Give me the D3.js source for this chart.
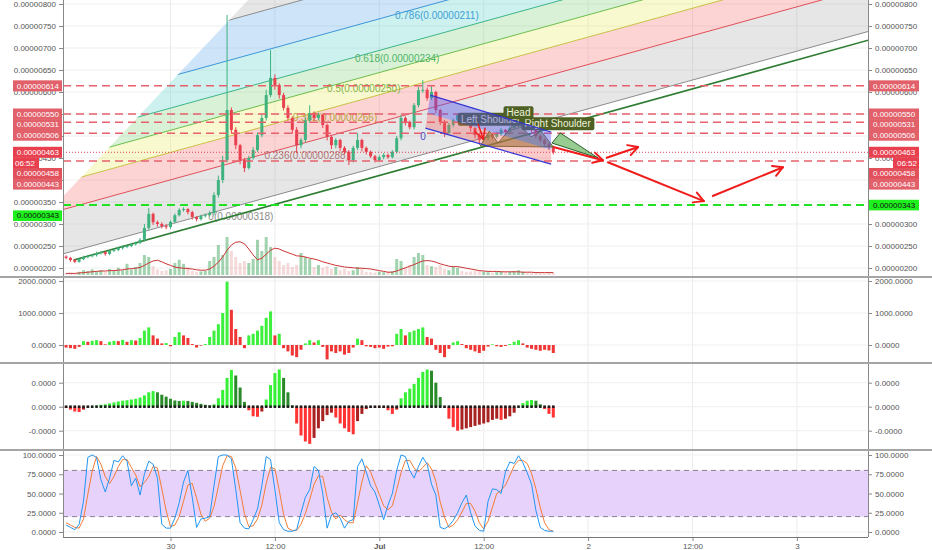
<!DOCTYPE html>
<html><head><meta charset="utf-8">
<script src="https://cdnjs.cloudflare.com/ajax/libs/d3/7.8.5/d3.min.js"></script>
<style>body{margin:0;background:#fff}svg{display:block}</style>
</head><body><svg id="c" width="932" height="550"></svg>
<script>
// ---------------- DATA (prices in units of 0.00000001) ----------------
const startTime = "2018-06-29T12:00:00Z";
const stepMinutes = 30;
const opens = [226,223,218,214,220,225,227,229,234,236, 232,239,241,245,248,250,254,257,264,291,
  323,304,300,295,293,305,320,332,334,327, 316,311,318,320,325,366,400,445,559,514,
  479,445,427,450,468,502,541,593,632,616, 593,564,541,514,479,491,536,552,541,548,
  525,498,479,491,473,464,445,473,491,473, 464,454,445,452,457,452,464,495,541,532,
  520,570,604,605,586,600,559,532,507,525, 536,548,541,532,518,502,491,495,502,498,
  505,514,509,518,523,527,532,525,514,500, 491,482,475];
const highs = [229,225,220,222,228,230,232,237,239,238, 241,244,248,251,253,257,260,268,300,336,
  326,308,304,300,308,324,336,338,336,330, 318,321,324,330,372,410,455,775,565,520,
  482,450,455,475,508,550,605,695,640,620, 598,570,545,520,496,542,570,556,553,550,
  528,502,495,494,477,468,478,507,494,476, 467,457,456,461,460,468,500,548,545,535,
  575,612,627,610,616,603,562,536,530,540, 552,550,545,535,520,505,500,506,505,510,
  518,516,522,527,531,536,535,528,516,503, 494,485,478];
const lows = [220,214,211,212,218,222,224,226,231,228, 229,236,238,242,245,247,251,254,260,287,
  298,294,290,288,289,302,317,328,322,310, 306,308,315,317,320,360,393,440,505,470,
  436,418,424,446,464,497,535,588,605,585, 558,535,505,461,472,485,530,535,536,518,
  490,470,472,466,458,434,440,468,465,458, 450,440,442,447,448,449,460,490,524,515,
  515,565,598,580,582,552,525,498,503,520, 530,535,526,510,495,480,486,490,492,494,
  500,503,505,514,518,522,520,508,495,486, 476,468,458];
const closes = [223,218,214,220,225,227,229,234,236,232, 239,241,245,248,250,254,257,264,291,323,
  304,300,295,293,305,320,332,334,327,316, 311,318,320,325,366,400,445,559,514,479,
  445,427,450,468,502,541,593,632,616,593, 564,541,514,479,491,536,552,541,548,525,
  498,479,491,473,464,445,473,491,473,464, 454,445,452,457,452,464,495,541,532,520,
  570,604,605,586,600,559,532,507,525,536, 548,541,532,518,502,491,495,502,498,505,
  514,509,518,523,527,532,525,514,500,491, 482,475,463];
const volumes = [5,6,4,8,12,10,14,9,12,8, 15,10,18,12,28,14,20,30,50,45,
  22,14,10,12,15,30,38,28,20,10, 8,9,10,35,45,75,50,95,60,45,
  30,35,30,40,88,60,95,70,45,35, 25,30,20,25,55,45,40,20,25,18,
  22,15,20,12,15,10,12,20,15,8, 7,6,8,7,8,10,40,35,20,25,
  45,55,50,25,22,20,25,15,12,20, 18,10,8,9,10,12,8,7,6,8,
  9,7,8,10,12,8,6,5,6,5, 4,5,6];
const volumeMA = [4,4,4,5,6,7,8,9,10,10, 11,11,12,13,15,16,17,19,24,30,
  35,37,33,28,24,20,18,17,16,15, 13,12,12,15,22,32,45,62,75,82,
  83,78,65,50,38,42,52,62,67,65, 60,56,52,48,47,45,42,40,37,33,
  30,27,24,22,20,19,18,17,17,16, 15,13,11,9,7,7,10,14,18,22,
  26,31,35,36,35,32,28,25,22,21, 21,19,17,15,13,11,10,9,9,9,
  8,8,8,8,8,7,7,7,6,6, 6,6,6];
const momentum = [-80,-100,-120,-60,120,100,130,150,120,20, 100,130,120,160,100,150,140,220,450,550,
  300,200,50,60,-40,250,400,300,220,30, -80,-20,30,250,450,650,1000,1980,1100,500,
  250,-100,300,350,450,600,850,1050,300,350, -100,-200,-330,-380,-150,50,150,80,150,-60,
  -450,-200,-250,-200,-300,-250,-80,200,150,-40, -60,-100,-80,-120,-50,-40,350,500,300,400,
  450,500,550,250,200,-150,-250,-380,-120,80, 120,30,-100,-150,-200,-250,-180,-50,20,-40,
  -60,-30,30,100,150,50,-80,-120,-150,-180, -150,-170,-250];
const macdHist = [-0.05,-0.12,-0.2,-0.22,-0.12,-0.03,0.02,0.05,0.08,0.1, 0.14,0.18,0.22,0.25,0.27,0.3,0.33,0.38,0.47,0.6,
  0.65,0.6,0.5,0.42,0.33,0.26,0.24,0.25,0.24,0.2, 0.16,0.12,0.08,0.05,0.1,0.35,0.7,1.2,1.53,1.3,
  0.8,0.2,-0.15,-0.4,-0.42,-0.2,0.3,0.9,1.4,1.55, 1.2,0.6,0.05,-0.7,-1.2,-1.45,-1.55,-1.3,-0.9,-0.6,
  -0.35,-0.25,-0.45,-0.7,-0.9,-1.05,-1.15,-0.6,-0.3,-0.1, -0.05,-0.03,-0.04,-0.05,-0.15,-0.3,-0.12,0.35,0.6,0.75,
  0.95,1.2,1.45,1.55,1.5,1.0,0.4,-0.05,-0.5,-0.85, -1.0,-0.95,-0.9,-0.85,-0.8,-0.75,-0.7,-0.65,-0.55,-0.5,
  -0.55,-0.5,-0.4,-0.25,0.02,0.15,0.25,0.28,0.25,0.1, -0.1,-0.3,-0.45];
const stochK = [9,6,3,10,40,97,100,97,68,52, 70,93,91,99,92,60,70,48,75,92,
  88,70,10,5,5,18,38,65,80,45, 6,17,18,20,60,98,100,100,95,55,
  12,5,4,16,30,60,98,94,55,12, 3,1,1,3,25,45,55,85,80,50,
  5,22,25,18,5,14,16,85,95,78, 60,52,35,16,35,50,80,100,98,80,
  70,85,97,88,62,48,6,4,8,15, 25,38,48,25,8,2,1,40,56,55,
  50,78,91,89,99,90,77,62,28,6, 2,1,1];
const stochD = [12,9,6,5,17,49,79,98,88,72, 63,72,85,94,94,84,74,59,64,72,
  85,83,56,28,7,9,20,40,61,63, 44,23,14,18,33,59,86,99,98,83,
  54,24,7,8,17,35,63,84,82,54, 23,5,2,2,10,24,42,62,73,72,
  45,26,17,22,16,12,12,38,65,86, 78,63,49,34,29,34,55,77,93,93,
  83,78,84,90,82,66,39,19,6,9, 16,26,37,37,27,12,4,14,32,50,
  54,61,73,86,93,93,89,76,56,32, 12,3,1];
const priceTicks = [200,250,300,350,400,450,500,550,600,650,700,750,800];
const momTicks = [0,1000,2000];
const macdTicks = [-1,0,1];
const macdTickLabels = ["-0.0000","0.0000","0.0000"];
const stochTicks = [0,25,50,75,100];
const timeTicks = ["2018-06-30T00:00:00Z","2018-06-30T12:00:00Z","2018-07-01T00:00:00Z","2018-07-01T12:00:00Z","2018-07-02T00:00:00Z","2018-07-02T12:00:00Z","2018-07-03T00:00:00Z"];
const redLevels = [614,550,531,506,443];
const lastPrice = 463, lastClose = 458, greenLevel = 343;
const countdown = "06:52";
// drawings: candle index (fractional) & price
const fibLevels = [0,0.236,0.382,0.5,0.618,0.786,1,1.618];
const fibBase = {p0:234, slope:2.731, width:427, edgeP0:370, edgeSlope:10.49};
const fibLabels = [
  {text:"0(0.00000318)", i:32.7, p:318, c:"#8c8c8c"},
  {text:"0.236(0.00000288)", i:45.6, p:455, c:"#b07a7a"},
  {text:"0.382(0.00000266)", i:52.1, p:541, c:"#b3a53c"},
  {text:"0.5(0.00000250)", i:60.0, p:609, c:"#7fb347"},
  {text:"0.618(0.00000234)", i:66.4, p:677, c:"#4fb56a"},
  {text:"0.786(0.00000211)", i:75.6, p:775, c:"#3f9fd8"}];
const trendLine = [[1.7,218],[190,733]];
const channelTop = [[83.7,593],[111.5,509]];
const channelBottom = [[82.6,518],[111.5,436]];
const hsPoints = [[95.2,477],[97.3,511],[99.3,484],[103.5,534],[106.9,498],[109.2,511],[112,475]];
const hsLabels = [{text:"Left Shoulder", i:97.6, p:538},{text:"Right Shoulder", i:113.0, p:528},{text:"Head", i:104.0, p:553}];
const greenTriangle = [[111.7,484],[113.6,507],[122.3,450]];
const arrows = [[[112,475],[123.4,445]],[[124.1,450],[131.5,475]],[[124.4,441],[146.6,352]],[[148.5,363],[164.8,429]]];
const smallArrow = [[94.7,527],[95.9,493]];
const zeroLabel = {text:"0", i:81.4, p:500};

// ---------------- SETUP ----------------
const svg = d3.select("#c");
const X0 = 63, X1 = 868;
const FONT = "'Liberation Sans', Arial, sans-serif";
svg.attr("font-family", FONT);
const t0 = Date.parse(startTime);
const T = i => new Date(t0 + i * stepMinutes * 60000);
const x = d3.scaleUtc().domain([new Date("2018-06-30T00:00:00Z"), new Date("2018-07-01T00:00:00Z")]).range([170.5, 379.3]);
const xi = i => x(T(i));
const yP = d3.scaleLinear().domain([200, 800]).range([268, 4]);
const yV = d3.scaleLinear().domain([0, 100]).range([275, 235]);
const yM = d3.scaleLinear().domain([0, 2000]).range([345, 281]);
const yH = d3.scaleLinear().domain([-1, 1]).range([430.7, 382.7]);
const yS = d3.scaleLinear().domain([0, 100]).range([532, 455]);
const panes = [[0, 276], [278, 362], [364, 449], [451, 537]];
const defs = svg.append("defs");
panes.forEach((p, k) => defs.append("clipPath").attr("id", "pane" + k).append("rect")
  .attr("x", X0).attr("y", p[0]).attr("width", X1 - X0).attr("height", p[1] - p[0]));
const N = closes.length;
const tickTimes = timeTicks.map(s => new Date(s));

// gridlines
const grid = svg.append("g");
tickTimes.forEach(t => grid.append("line").attr("x1", x(t)).attr("x2", x(t)).attr("y1", 0).attr("y2", 537).attr("stroke", "#ececec"));
const hgrid = (vals, sc) => vals.forEach(v => grid.append("line").attr("x1", X0).attr("x2", X1).attr("y1", sc(v)).attr("y2", sc(v)).attr("stroke", "#efefef"));
hgrid(priceTicks, yP); hgrid(momTicks, yM); hgrid(macdTicks, yH); hgrid(stochTicks, yS);

// ---------------- MAIN PANE ----------------
const main = svg.append("g").attr("clip-path", "url(#pane0)");
// fib channel
const fibClip = defs.append("clipPath").attr("id", "fibclip");
const eP = i => fibBase.edgeP0 + fibBase.edgeSlope * i;
fibClip.append("polygon").attr("points", [[xi(-30), yP(eP(-30))], [xi(80), yP(eP(80))], [xi(250), yP(eP(80))], [xi(250), yP(eP(-30))]].map(d => d.join(",")).join(" "));
const fib = main.append("g").attr("clip-path", "url(#fibclip)");
const lvlP = (L, i) => fibBase.p0 + fibBase.slope * i + L * fibBase.width;
const bandFill = ["rgba(150,150,150,0.24)", "rgba(242,90,90,0.26)", "rgba(235,235,110,0.32)", "rgba(120,205,110,0.28)", "rgba(60,200,190,0.26)", "rgba(60,150,230,0.26)", "rgba(150,150,150,0.24)"];
const lineCol = ["#8c8c8c", "#e0505a", "#c8c046", "#6cbf4c", "#3db58a", "#3d96d8", "#8c8c8c"];
const ia = -40, ib = 200;
for (let k = 0; k < fibLevels.length - 1; k++) {
  const a = fibLevels[k], b = fibLevels[k + 1];
  fib.append("polygon").attr("fill", bandFill[k]).attr("points",
    [[xi(ia), yP(lvlP(a, ia))], [xi(ib), yP(lvlP(a, ib))], [xi(ib), yP(lvlP(b, ib))], [xi(ia), yP(lvlP(b, ia))]].map(d => d.join(",")).join(" "));
}
for (let k = 0; k < 7; k++) {
  const L = fibLevels[k];
  fib.append("line").attr("x1", xi(ia)).attr("y1", yP(lvlP(L, ia))).attr("x2", xi(ib)).attr("y2", yP(lvlP(L, ib)))
    .attr("stroke", lineCol[k]).attr("stroke-width", 1);
}
fibLabels.forEach(l => main.append("text").attr("x", xi(l.i)).attr("y", yP(l.p)).attr("dy", "0.35em")
  .attr("font-size", 10).attr("fill", l.c).text(l.text));
// trend line
main.append("line").attr("x1", xi(trendLine[0][0])).attr("y1", yP(trendLine[0][1])).attr("x2", xi(trendLine[1][0])).attr("y2", yP(trendLine[1][1]))
  .attr("stroke", "#2e7d32").attr("stroke-width", 1.6);
// volume
const bw = 3;
for (let i = 0; i < N; i++) {
  const up = closes[i] >= opens[i];
  main.append("rect").attr("x", xi(i) - bw / 2).attr("width", bw).attr("y", yV(volumes[i])).attr("height", yV(0) - yV(volumes[i]))
    .attr("fill", up ? "rgba(83,175,110,0.55)" : "rgba(225,150,145,0.35)");
}
main.append("path").datum(volumeMA).attr("fill", "none").attr("stroke", "#cc3333").attr("stroke-width", 1)
  .attr("d", d3.line().x((d, i) => xi(i)).y(d => yV(d)));
// candles
for (let i = 0; i < N; i++) {
  const up = closes[i] >= opens[i];
  const col = up ? "#3fb27f" : "#e8404f";
  main.append("line").attr("x1", xi(i)).attr("x2", xi(i)).attr("y1", yP(highs[i])).attr("y2", yP(lows[i])).attr("stroke", col).attr("stroke-width", 1);
  const yt = yP(Math.max(opens[i], closes[i])), yb = yP(Math.min(opens[i], closes[i]));
  main.append("rect").attr("x", xi(i) - bw / 2).attr("width", bw).attr("y", yt).attr("height", Math.max(1, yb - yt)).attr("fill", col);
}
// horizontal lines
redLevels.forEach(v => main.append("line").attr("x1", X0).attr("x2", X1).attr("y1", yP(v)).attr("y2", yP(v))
  .attr("stroke", "#e8606c").attr("stroke-width", 1.5).attr("stroke-dasharray", "8,5"));
main.append("line").attr("x1", X0).attr("x2", X1).attr("y1", yP(lastPrice)).attr("y2", yP(lastPrice))
  .attr("stroke", "#e04050").attr("stroke-width", 1).attr("stroke-dasharray", "1,2");
main.append("line").attr("x1", X0).attr("x2", X1).attr("y1", yP(greenLevel)).attr("y2", yP(greenLevel))
  .attr("stroke", "#22e022").attr("stroke-width", 2).attr("stroke-dasharray", "8,5");
// H&S labels
const drawTag = (g, t, cx, cy, bg, fg) => {
  const tx = g.append("text").attr("x", cx).attr("y", cy).attr("dy", "0.35em").attr("text-anchor", "middle").attr("font-size", 10).attr("fill", fg).text(t);
  const bb = tx.node().getBBox();
  g.insert("rect", "text").attr("x", bb.x - 3).attr("y", bb.y - 1).attr("width", bb.width + 6).attr("height", bb.height + 2).attr("rx", 2).attr("fill", bg);
};
const pt = d => [xi(d[0]), yP(d[1])];
// H&S pattern
const hsPoly = hsPoints.map(pt);
main.append("polygon").attr("points", hsPoly.map(d => d.join(",")).join(" ")).attr("fill", "rgba(130,125,45,0.6)").attr("stroke", "#5d6b2a").attr("stroke-width", 1);
hsLabels.forEach(l => { const g = main.append("g"); drawTag(g, l.text, xi(l.i), yP(l.p), "#4e6024", "#eef2dc"); });
// blue channel
const ctl = pt(channelTop[0]), ctr = pt(channelTop[1]), cbl = pt(channelBottom[0]), cbr = pt(channelBottom[1]);
const f = 0.55;
const cml = [ctl[0] + (cbl[0] - ctl[0]) * f, ctl[1] + (cbl[1] - ctl[1]) * f], cmr = [ctr[0] + (cbr[0] - ctr[0]) * f, ctr[1] + (cbr[1] - ctr[1]) * f];
main.append("polygon").attr("points", [ctl, ctr, cmr, cml].map(d => d.join(",")).join(" ")).attr("fill", "rgba(85,85,235,0.42)");
main.append("polygon").attr("points", [cml, cmr, cbr, cbl].map(d => d.join(",")).join(" ")).attr("fill", "rgba(240,95,95,0.33)");
[[ctl, ctr], [cbl, cbr]].forEach(s => main.append("line").attr("x1", s[0][0]).attr("y1", s[0][1]).attr("x2", s[1][0]).attr("y2", s[1][1]).attr("stroke", "#3535d5").attr("stroke-width", 1.2));
main.append("text").attr("x", xi(zeroLabel.i)).attr("y", yP(zeroLabel.p)).attr("dy", "0.35em").attr("font-size", 10).attr("fill", "#4848c8").text(zeroLabel.text);
// green triangle
main.append("polygon").attr("points", greenTriangle.map(pt).map(d => d.join(",")).join(" ")).attr("fill", "rgba(80,170,70,0.6)").attr("stroke", "#2d5e2d").attr("stroke-width", 1);
// arrows
const drawArrow = (a, b, w) => {
  const p1 = pt(a), p2 = pt(b);
  main.append("line").attr("x1", p1[0]).attr("y1", p1[1]).attr("x2", p2[0]).attr("y2", p2[1]).attr("stroke", "#f01c1c").attr("stroke-width", w);
  const ang = Math.atan2(p2[1] - p1[1], p2[0] - p1[0]), L = 11, s = 0.5;
  [-s, s].forEach(d => main.append("line").attr("x1", p2[0]).attr("y1", p2[1]).attr("x2", p2[0] - L * Math.cos(ang + d)).attr("y2", p2[1] - L * Math.sin(ang + d))
    .attr("stroke", "#f01c1c").attr("stroke-width", w).attr("stroke-linecap", "round"));
};
arrows.forEach(a => drawArrow(a[0], a[1], 2));
drawArrow(smallArrow[0], smallArrow[1], 1.5);

// ---------------- MOMENTUM PANE ----------------
const mom = svg.append("g").attr("clip-path", "url(#pane1)");
momentum.forEach((v, i) => {
  const red = v < 0 || (i > 0 && v < momentum[i - 1]);
  mom.append("rect").attr("x", xi(i) - bw / 2).attr("width", bw).attr("y", Math.min(yM(v), yM(0))).attr("height", Math.abs(yM(v) - yM(0)))
    .attr("fill", red ? "#f03535" : "#3ef03e");
});
// ---------------- MACD PANE ----------------
const mac = svg.append("g").attr("clip-path", "url(#pane2)");
macdHist.forEach((v, i) => {
  const prev = i > 0 ? macdHist[i - 1] : v;
  let c;
  if (v >= 0) c = v >= prev ? "#35f035" : "#2a8a2a"; else c = v <= prev ? "#ff3333" : "#a82222";
  mac.append("rect").attr("x", xi(i) - bw / 2).attr("width", bw).attr("y", Math.min(yH(v), yH(0))).attr("height", Math.abs(yH(v) - yH(0))).attr("fill", c);
});
macdHist.forEach((v, i) => mac.append("rect").attr("x", xi(i) - 1.3).attr("y", yH(0) - 1.3).attr("width", 2.6).attr("height", 2.6).attr("fill", "#1e1e1e"));
// ---------------- STOCH PANE ----------------
const sto = svg.append("g").attr("clip-path", "url(#pane3)");
sto.append("rect").attr("x", X0).attr("width", X1 - X0).attr("y", yS(80)).attr("height", yS(20) - yS(80)).attr("fill", "#e6d2fb");
[80, 20].forEach(v => sto.append("line").attr("x1", X0).attr("x2", X1).attr("y1", yS(v)).attr("y2", yS(v)).attr("stroke", "#8a7f96").attr("stroke-dasharray", "5,4"));
sto.append("path").datum(stochD).attr("fill", "none").attr("stroke", "#f57c35").attr("stroke-width", 1).attr("d", d3.line().x((d, i) => xi(i)).y(d => yS(d)));
sto.append("path").datum(stochK).attr("fill", "none").attr("stroke", "#2196f3").attr("stroke-width", 1).attr("d", d3.line().x((d, i) => xi(i)).y(d => yS(d)));

// ---------------- AXES ----------------
const styleAxis = g => { g.attr("font-family", FONT).attr("font-size", 8); g.select(".domain").remove(); g.selectAll("text").attr("fill", "#555"); g.selectAll("line").attr("stroke", "#888"); };
const pfmt = v => (v * 1e-8).toFixed(8);
const addY = (sc, vals, fmt) => {
  svg.append("g").attr("transform", `translate(${X0},0)`).call(d3.axisLeft(sc).tickValues(vals).tickFormat(fmt).tickSize(4).tickPadding(3)).call(styleAxis);
  svg.append("g").attr("transform", `translate(${X1},0)`).call(d3.axisRight(sc).tickValues(vals).tickFormat(fmt).tickSize(4).tickPadding(3)).call(styleAxis);
};
addY(yP, priceTicks, pfmt);
addY(yM, momTicks, v => v.toFixed(4));
addY(yH, macdTicks, (v, k) => macdTickLabels[k]);
addY(yS, stochTicks, v => v.toFixed(4));
const xfmt = d => d.getUTCHours() === 12 ? "12:00" : (d.getUTCDate() === 1 ? d3.utcFormat("%b")(d) : String(d.getUTCDate()));
const xa = svg.append("g").attr("transform", "translate(0,537)").call(d3.axisBottom(x).tickValues(tickTimes).tickFormat(xfmt).tickSize(4).tickPadding(2)).call(styleAxis);
xa.selectAll("text").filter(d => d.getUTCDate() === 1 && d.getUTCHours() === 0).attr("font-weight", "bold");
// frame
svg.append("line").attr("x1", X0 + 0.5).attr("x2", X0 + 0.5).attr("y1", 0).attr("y2", 537).attr("stroke", "#888");
svg.append("line").attr("x1", X1 + 0.5).attr("x2", X1 + 0.5).attr("y1", 0).attr("y2", 537).attr("stroke", "#888");
svg.append("line").attr("x1", X0).attr("x2", X1).attr("y1", 537.5).attr("y2", 537.5).attr("stroke", "#777");
[277, 363, 450].forEach(y => svg.append("line").attr("x1", 0).attr("x2", 932).attr("y1", y).attr("y2", y).attr("stroke", "#a5a5a5").attr("stroke-width", 2));

// ---------------- AXIS PRICE BOXES ----------------
const items = [];
redLevels.forEach(v => items.push({y: yP(v), text: pfmt(v), bg: "#e2606a", fg: "#fff"}));
items.push({y: yP(lastPrice), text: pfmt(lastPrice), bg: "#e8404f", fg: "#fff", cur: true});
items.push({y: yP(lastClose), text: pfmt(lastClose), bg: "#e2505c", fg: "#fff"});
items.sort((a, b) => a.y - b.y);
const H = 10.6;
const placed = [];
let prev = -100;
items.forEach(it => {
  let y = Math.max(it.y, prev + H);
  placed.push(Object.assign({}, it, {py: y}));
  prev = y;
  if (it.cur) { placed.push({py: y + H, text: countdown, bg: "#e8404f", fg: "#fff", small: true}); prev = y + H; }
});
const boxes = svg.append("g").attr("font-size", 8);
placed.forEach(it => {
  if (it.small) {
    boxes.append("rect").attr("x", 893).attr("y", it.py - H / 2).attr("width", 26).attr("height", H).attr("fill", it.bg);
    boxes.append("text").attr("x", 917).attr("y", it.py).attr("dy", "0.35em").attr("text-anchor", "end").attr("fill", it.fg).text(it.text);
    boxes.append("rect").attr("x", 13).attr("y", it.py - H / 2).attr("width", 26).attr("height", H).attr("fill", it.bg);
    boxes.append("text").attr("x", 15).attr("y", it.py).attr("dy", "0.35em").attr("fill", it.fg).text(it.text);
  } else {
    boxes.append("rect").attr("x", X1 + 1).attr("y", it.py - H / 2 - 0.2).attr("width", 50).attr("height", H + 0.4).attr("fill", it.bg);
    boxes.append("text").attr("x", X1 + 5).attr("y", it.py).attr("dy", "0.35em").attr("fill", it.fg).text(it.text);
    boxes.append("rect").attr("x", 13).attr("y", it.py - H / 2 - 0.2).attr("width", 49).attr("height", H + 0.4).attr("fill", it.bg);
    boxes.append("text").attr("x", 59).attr("y", it.py).attr("dy", "0.35em").attr("text-anchor", "end").attr("fill", it.fg).text(it.text);
  }
});
// green level boxes (left one sits one row lower, as in the reference)
const gy = yP(greenLevel);
boxes.append("rect").attr("x", X1 + 1).attr("y", gy - H / 2).attr("width", 50).attr("height", H).attr("fill", "#1ef01e");
boxes.append("text").attr("x", X1 + 5).attr("y", gy).attr("dy", "0.35em").attr("fill", "#111").text(pfmt(greenLevel));
boxes.append("rect").attr("x", 13).attr("y", gy + H - H / 2).attr("width", 49).attr("height", H).attr("fill", "#1ef01e");
boxes.append("text").attr("x", 59).attr("y", gy + H).attr("dy", "0.35em").attr("text-anchor", "end").attr("fill", "#111").text(pfmt(greenLevel));
</script></body></html>
